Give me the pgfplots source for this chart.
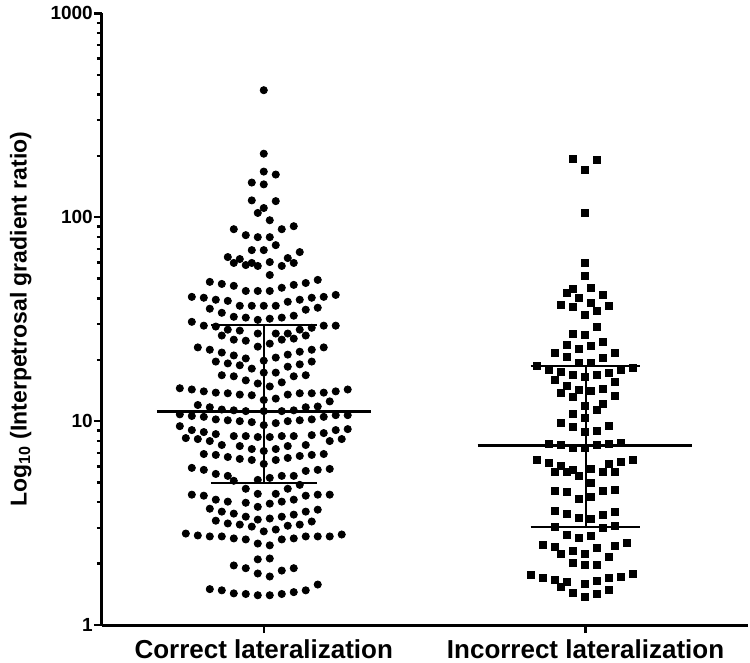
\documentclass[border=0pt]{standalone}
\usepackage{fontspec}
\setmainfont{Liberation Sans}
\usepackage{pgfplots}
\usepackage{pgfplotstable}
\pgfplotsset{compat=1.18}
\pgfplotstableread{
x y
265 420
265 205
265 167.5
277 162
253 148
265 145
253 121
277 120
265 111
259 105
271 96.7
235 87.4
283 87.4
295 90.4
247 81.7
259 79.9
271 79.9
277 73.0
253 69.0
265 69.0
301 67.5
229 63.8
241 62.4
235 59.7
253 59.7
247 58.3
259 57.7
271 60.3
289 63.1
283 57.7
295 59.7
271 52.1
211 48.2
223 47.1
235 46.1
247 43.5
259 43.5
271 43.5
283 45.1
295 46.6
307 47.6
319 49.3
193 40.7
205 40.3
217 39.4
229 38.9
241 36.8
253 36.8
265 36.8
277 36.8
289 38.5
301 39.4
313 40.3
325 40.7
337 41.6
211 35.6
223 34.0
235 32.5
247 32.2
259 31.4
271 31.8
283 32.2
295 32.9
307 35.2
319 36.0
193 30.7
205 29.4
217 29.1
325 29.4
337 29.4
229 28.1
241 27.8
313 28.7
301 28.1
223 26.3
235 25.1
247 24.8
259 26.9
277 26.9
289 26.9
295 25.4
307 26.3
283 25.1
199 23.0
211 22.4
223 21.7
259 23.2
271 24.0
301 21.9
313 22.4
325 23.0
217 19.6
229 19.2
235 21.0
247 20.3
241 18.8
253 18.1
265 19.8
277 20.5
289 21.2
289 18.5
301 19.0
313 19.6
223 16.8
235 16.6
265 17.3
277 17.3
295 16.6
307 16.8
247 15.85
259 15.3
283 15.5
181 14.5
193 14.3
205 14.0
217 13.8
229 13.7
241 13.5
253 13.4
271 14.8
277 12.9
289 13.5
301 13.7
313 13.7
325 13.8
337 14.0
349 14.3
265 12.7
199 12.0
211 11.7
223 11.4
235 11.3
247 11.2
265 11.2
283 11.2
295 11.3
307 11.7
319 11.8
331 12.5
181 10.8
193 10.6
205 10.5
217 10.2
229 10.1
241 10.0
253 9.89
277 9.78
289 10.0
301 10.1
313 10.2
325 10.5
337 10.7
349 10.7
265 9.56
181 9.45
193 9.04
205 8.84
217 8.64
337 9.04
349 9.14
325 8.74
313 8.54
187 8.26
199 8.17
211 7.99
235 8.45
247 8.45
259 8.36
271 8.36
283 8.45
295 8.45
331 7.99
343 8.17
223 7.64
241 7.55
253 7.30
265 7.14
277 7.30
289 7.55
307 7.64
205 6.90
217 6.83
229 6.67
241 6.53
253 6.45
277 6.45
289 6.60
301 6.75
313 6.83
325 6.90
265 6.17
193 5.90
205 5.77
217 5.51
229 5.39
307 5.70
319 5.77
331 5.83
235 5.10
259 5.15
271 5.27
283 5.39
295 5.39
301 4.87
247 4.66
289 4.66
193 4.36
205 4.31
217 4.12
229 4.03
259 4.40
277 4.40
307 4.31
319 4.36
331 4.36
247 3.98
271 3.94
283 4.03
295 4.12
211 3.72
223 3.60
235 3.52
259 3.80
247 3.40
259 3.29
271 3.33
283 3.40
295 3.48
307 3.60
319 3.68
217 3.25
229 3.15
241 3.11
253 3.04
265 2.88
277 2.94
289 3.07
301 3.11
313 3.22
187 2.81
199 2.75
211 2.72
223 2.72
235 2.66
247 2.63
259 2.51
271 2.46
283 2.63
295 2.66
307 2.72
319 2.72
331 2.72
343 2.78
235 1.96
247 1.90
259 2.10
271 2.12
259 1.79
271 1.73
283 1.85
295 1.90
211 1.50
223 1.48
235 1.43
247 1.42
259 1.40
271 1.40
283 1.42
295 1.45
307 1.48
319 1.58
}\correct
\pgfplotstableread{
x y
574 193
598 192
586 171
586 104.6
586 59.4
586 51.7
574 44.5
568 42.6
592 44.9
604 41.8
580 40.4
562 37.2
574 36.3
592 38.0
610 36.8
598 34.8
586 33.3
598 29.0
574 26.9
586 26.6
568 23.7
592 23.3
604 24.6
580 22.5
556 21.7
616 21.5
568 20.7
604 20.5
538 18.7
550 17.9
580 19.4
592 19.4
622 17.9
634 18.3
562 17.5
574 16.9
586 16.5
598 16.9
610 17.3
556 15.9
616 15.5
568 14.9
580 14.3
592 14.0
604 14.4
562 13.7
574 13.1
616 13.3
586 11.9
604 12.2
598 11.4
574 10.8
586 10.4
562 9.85
574 9.35
610 9.49
586 8.81
598 8.91
550 7.75
562 7.66
574 7.38
586 7.38
598 7.61
610 7.75
622 7.81
538 6.43
550 6.24
562 6.01
556 5.64
568 5.64
574 5.79
580 5.41
592 5.85
604 5.62
610 6.17
616 5.64
622 6.31
634 6.48
592 4.98
556 4.57
568 4.49
604 4.57
616 4.59
580 4.17
592 4.26
556 3.63
568 3.49
580 3.34
592 3.30
604 3.45
616 3.59
556 3.04
604 2.98
616 3.05
568 2.76
580 2.69
592 2.74
544 2.48
556 2.42
562 2.24
574 2.31
586 2.24
598 2.38
616 2.44
628 2.52
610 2.15
574 2.01
586 1.97
598 1.98
532 1.76
544 1.70
556 1.67
568 1.62
562 1.53
586 1.59
598 1.65
610 1.70
622 1.73
634 1.79
574 1.44
586 1.38
598 1.42
610 1.49
}\incorrect
\begin{document}
\begin{tikzpicture}
\begin{axis}[
  scale only axis,
  width=323.5pt, height=306pt,
  xmin=103, xmax=750,
  ymode=log, ymin=1, ymax=1000,
  axis lines=left,
  axis line style={-, line width=1.5pt},
  every tick/.style={black, line width=1.2pt},
  tick align=outside,
  major tick length=4pt,
  minor tick length=2.5pt,
  xtick={265,587},
  xticklabels={Correct lateralization, Incorrect lateralization},
  ytick={1,10,100,1000},
  yticklabels={1,10,100,1000},
  minor ytick={2,3,4,5,6,7,8,9,20,30,40,50,60,70,80,90,200,300,400,500,600,700,800,900},
  xticklabel style={font=\fontsize{13}{15}\selectfont\bfseries, inner sep=2pt, yshift=-1pt},
  yticklabel style={font=\fontsize{9.5}{11}\selectfont\bfseries, xshift=3pt},
  ylabel={Log\textsubscript{10} (Interpetrosal gradient ratio)},
  ylabel style={font=\fontsize{11.5}{14}\selectfont\bfseries,
    at={(axis description cs:-0.0927,0.5)}, anchor=south, inner sep=5pt},
  clip=false,
]
\addplot[only marks, mark=*, mark size=1.8pt, black] table[x=x,y=y] {\correct};
\addplot[only marks, mark=square*, mark size=1.75pt, black] table[x=x,y=y] {\incorrect};
% medians and interquartile whiskers
\addplot[black, line width=1.6pt] coordinates {(158,11.2) (372,11.2)};
\addplot[black, line width=1pt] coordinates {(265,4.98) (265,29.5)};
\addplot[black, line width=1pt] coordinates {(212,29.5) (318,29.5)};
\addplot[black, line width=1pt] coordinates {(212,4.98) (318,4.98)};
\addplot[black, line width=1.6pt] coordinates {(479,7.61) (693,7.61)};
\addplot[black, line width=1pt] coordinates {(587,3.04) (587,18.6)};
\addplot[black, line width=1pt] coordinates {(532,18.6) (641,18.6)};
\addplot[black, line width=1pt] coordinates {(532,3.04) (641,3.04)};
\end{axis}
\end{tikzpicture}
\end{document}
